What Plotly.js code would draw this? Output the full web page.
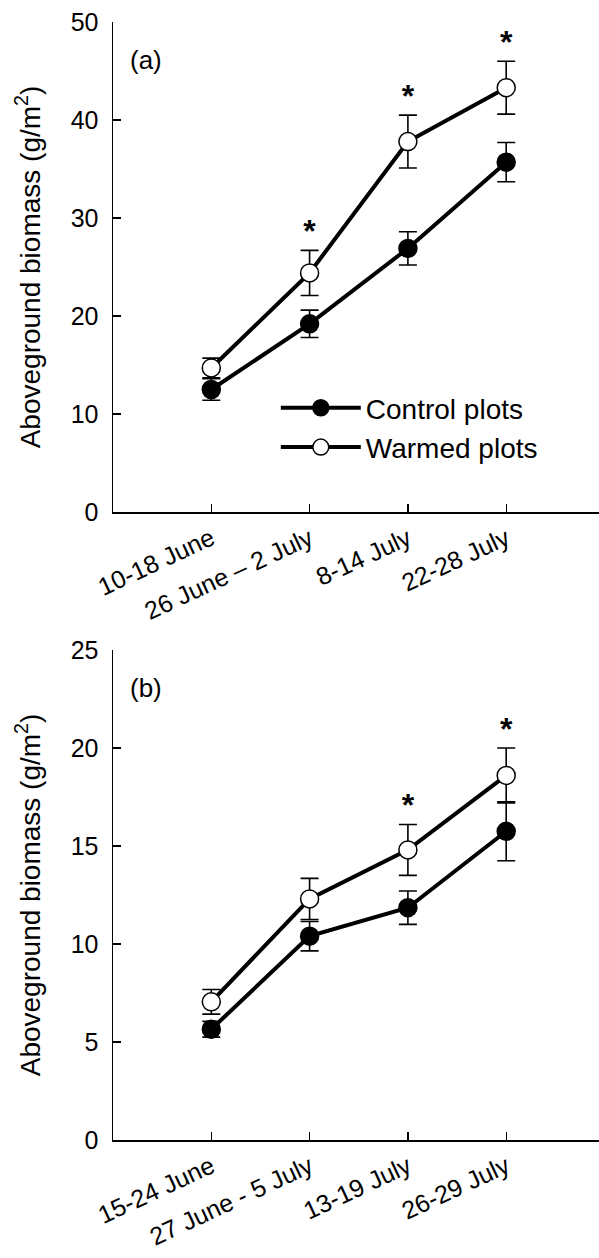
<!DOCTYPE html>
<html>
<head>
<meta charset="utf-8">
<script src="https://cdn.plot.ly/plotly-3.0.1.min.js"></script>
<style>
  html, body { margin: 0; padding: 0; background: #ffffff; }
  #chart { width: 599px; height: 1258px; }
</style>
</head>
<body>
<div id="chart"></div>
<script>
// ---- Data: panel (a) ----
const categoriesA = ['10-18 June', '26 June \u2013 2 July', '8-14 July', '22-28 July'];
const controlA    = [12.5, 19.2, 26.9, 35.7];
const controlAErr = [1.1, 1.4, 1.7, 2.0];
const warmedA     = [14.7, 24.4, 37.8, 43.3];
const warmedAErr  = [1.0, 2.3, 2.7, 2.7];
const sigA        = [false, true, true, true];

// ---- Data: panel (b) ----
const categoriesB = ['15-24 June', '27 June - 5 July', '13-19 July', '26-29 July'];
const controlB    = [5.65, 10.4, 11.85, 15.75];
const controlBErr = [0.4, 0.75, 0.85, 1.5];
const warmedB     = [7.05, 12.3, 14.8, 18.6];
const warmedBErr  = [0.63, 1.05, 1.3, 1.4];
const sigB        = [false, false, true, true];

const seriesNames = ['Control plots', 'Warmed plots'];
const yTitle = 'Aboveground biomass (g/m<sup>2</sup>)';
const panelLabels = ['(a)', '(b)'];

// ---- Styling ----
const FONT = 'Liberation Sans, Arial, Helvetica, sans-serif';
const idx = categoriesA.map((_, i) => i);

function seriesTrace(y, err, name, fill, xa, ya, showlegend) {
  return {
    type: 'scatter', mode: 'lines+markers',
    x: idx, y: y, name: name, xaxis: xa, yaxis: ya,
    showlegend: showlegend, legendrank: name === seriesNames[0] ? 1 : 2,
    line: { color: '#000000', width: 4 },
    marker: { symbol: 'circle', size: 18, color: fill, line: { color: '#000000', width: 1.5 } },
    error_y: { type: 'data', array: err, visible: true, color: '#000000', thickness: 1.6, width: 9 },
    cliponaxis: false
  };
}

function starTrace(y, err, sig, xa, ya) {
  const xs = [], ys = [];
  sig.forEach((s, i) => { if (s) { xs.push(i); ys.push(y[i] + err[i]); } });
  return {
    type: 'scatter', mode: 'text', x: xs, y: ys, xaxis: xa, yaxis: ya,
    text: xs.map(() => '*'), textposition: 'top center',
    textfont: { family: FONT, size: 32, color: '#000000', weight: 'bold' },
    showlegend: false, hoverinfo: 'skip', cliponaxis: false
  };
}

const data = [
  seriesTrace(controlA, controlAErr, seriesNames[0], '#000000', 'x', 'y', true),
  seriesTrace(warmedA, warmedAErr, seriesNames[1], '#ffffff', 'x', 'y', true),
  starTrace(warmedA, warmedAErr, sigA, 'x', 'y'),
  seriesTrace(controlB, controlBErr, seriesNames[0], '#000000', 'x2', 'y2', false),
  seriesTrace(warmedB, warmedBErr, seriesNames[1], '#ffffff', 'x2', 'y2', false),
  starTrace(warmedB, warmedBErr, sigB, 'x2', 'y2')
];

function xAxis(anchor, cats) {
  return {
    anchor: anchor, domain: [0, 1], range: [-1, 3.944],
    tickmode: 'array', tickvals: idx, ticktext: cats, tickangle: -25,
    ticks: 'inside', ticklen: 8, tickwidth: 1.2, tickcolor: '#000000',
    showline: true, linecolor: '#000000', linewidth: 1.5,
    showgrid: false, zeroline: false, fixedrange: true,
    tickfont: { family: FONT, size: 25, color: '#000000' },
    ticklabelstandoff: 1
  };
}
function yAxis(anchor, domain, range, dtick) {
  return {
    anchor: anchor, domain: domain, range: range, dtick: dtick,
    ticks: 'inside', ticklen: 8, tickwidth: 1.2, tickcolor: '#000000',
    showline: true, linecolor: '#000000', linewidth: 1.5,
    showgrid: false, zeroline: false, fixedrange: true,
    tickfont: { family: FONT, size: 25, color: '#000000' },
    ticklabelstandoff: 8,
    title: { text: yTitle, font: { family: FONT, size: 28, color: '#000000' }, standoff: 22 }
  };
}

const layout = {
  width: 599, height: 1258,
  margin: { l: 113, r: 0, t: 22, b: 118, pad: 0 },
  paper_bgcolor: '#ffffff', plot_bgcolor: '#ffffff',
  font: { family: FONT, color: '#000000' },
  xaxis: xAxis('y', categoriesA),
  yaxis: yAxis('x', [0.5617, 1], [0, 50], 10),
  xaxis2: xAxis('y2', categoriesB),
  yaxis2: yAxis('x2', [0, 0.4383], [0, 25], 5),
  showlegend: true,
  legend: {
    x: 0.335, y: 0.6373, xanchor: 'left', yanchor: 'middle',
    bgcolor: 'rgba(0,0,0,0)', borderwidth: 0,
    font: { family: FONT, size: 28, color: '#000000' },
    traceorder: 'normal', itemwidth: 80
  },
  annotations: [
    { text: panelLabels[0], xref: 'x domain', yref: 'y domain', x: 0.031, y: 0.922,
      xanchor: 'left', yanchor: 'middle', showarrow: false,
      font: { family: FONT, size: 26, color: '#000000' } },
    { text: panelLabels[1], xref: 'x2 domain', yref: 'y2 domain', x: 0.031, y: 0.922,
      xanchor: 'left', yanchor: 'middle', showarrow: false,
      font: { family: FONT, size: 26, color: '#000000' } }
  ]
};

Plotly.newPlot('chart', data, layout, { displayModeBar: false, staticPlot: true });
</script>
</body>
</html>
